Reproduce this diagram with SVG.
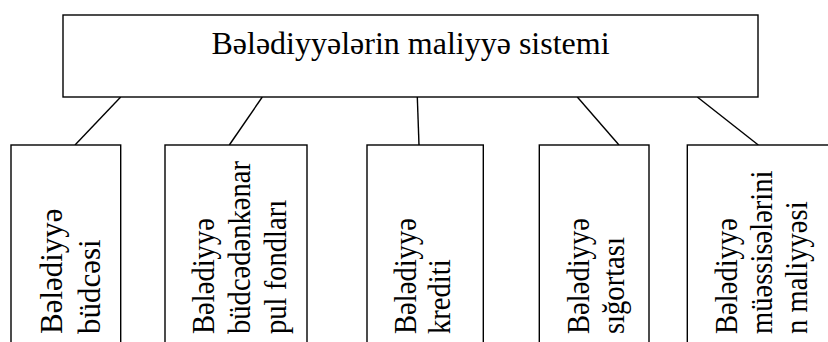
<svg xmlns="http://www.w3.org/2000/svg" width="828" height="342" viewBox="0 0 828 342">
<style>
  .box { fill: #ffffff; stroke: #000000; stroke-width: 1.4; }
  .title { font-family: "Liberation Serif", "Times New Roman", serif; font-size: 32px; fill: #000000; text-anchor: middle; }
  .lbl1 { font-family: "Liberation Serif", "Times New Roman", serif; font-size: 31px; fill: #000000; }
  .lbl { font-family: "Liberation Serif", "Times New Roman", serif; font-size: 28.6px; fill: #000000; }
  .conn line { stroke: #000000; stroke-width: 1.4; }
</style>
<rect x="0" y="0" width="828" height="342" fill="#ffffff"/>
<g id="connectors" class="conn">
  <line x1="120.7" y1="97" x2="75" y2="145"/>
  <line x1="262.3" y1="97" x2="229.3" y2="145"/>
  <line x1="417.3" y1="97" x2="419" y2="145"/>
  <line x1="577.3" y1="97" x2="619" y2="145"/>
  <line x1="697.3" y1="97" x2="758.3" y2="145"/>
</g>
<g id="root">
  <rect class="box" x="63" y="15" width="695" height="82"/>
  <text class="title" x="410.5" y="54">Bələdiyyələrin maliyyə sistemi</text>
</g>
<g id="node1">
  <rect class="box" x="11" y="145" width="109.7" height="210"/>
  <text class="lbl1" transform="translate(61.7,334) rotate(-90) scale(1,1.05)"><tspan x="0" y="0">Bələdiyyə</tspan><tspan x="0" dy="36.5">büdcəsi</tspan></text>
</g>
<g id="node2">
  <rect class="box" x="165" y="145" width="142" height="210"/>
  <text class="lbl" transform="translate(214.3,334) rotate(-90) scale(1,1.1)"><tspan x="0" y="0">Bələdiyyə</tspan><tspan x="0" dy="32.45">büdcədənkənar</tspan><tspan x="0" dy="32.3">pul fondları</tspan></text>
</g>
<g id="node3">
  <rect class="box" x="367" y="145" width="116.3" height="210"/>
  <text class="lbl" transform="translate(415.7,334) rotate(-90) scale(1,1.1)"><tspan x="0" y="0">Bələdiyyə</tspan><tspan x="0" dy="31.4">krediti</tspan></text>
</g>
<g id="node4">
  <rect class="box" x="539.3" y="145" width="109.7" height="210"/>
  <text class="lbl" transform="translate(589,334) rotate(-90) scale(1,1.1)"><tspan x="0" y="0">Bələdiyyə</tspan><tspan x="0" dy="31.8">sığortası</tspan></text>
</g>
<g id="node5">
  <rect class="box" x="687.3" y="145" width="160" height="210"/>
  <text class="lbl" transform="translate(737.3,334) rotate(-90) scale(1,1.1)"><tspan x="0" y="0">Bələdiyyə</tspan><tspan x="0" dy="31.5">müəssisələrini</tspan><tspan x="0" dy="31.5">n maliyyəsi</tspan></text>
</g>
</svg>
